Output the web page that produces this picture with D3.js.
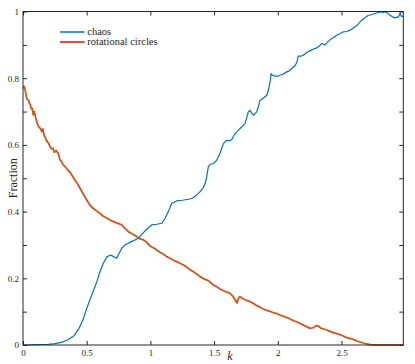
<!DOCTYPE html>
<html lang="en">
<head>
    <meta charset="UTF-8">
    <title>Fraction vs k</title>
    <script src="https://d3js.org/d3.v7.min.js"></script>
    <style>
        body { margin: 0; background: #fff; }
        text { font-family: "Liberation Serif", "Times New Roman", Times, serif; fill: #262626; }
    </style>
</head>
<body>
    <div class="canvas"></div>
    <script>
        // data
        const kChaos = [0, 0.1, 0.2, 0.25, 0.3, 0.35, 0.4, 0.44, 0.47, 0.5, 0.53, 0.56, 0.58, 0.6, 0.63, 0.66, 0.69, 0.71, 0.735, 0.755, 0.775, 0.8, 0.853, 0.905, 0.93, 0.958, 0.98, 1.01, 1.05, 1.09, 1.115, 1.141, 1.167, 1.206, 1.25, 1.3, 1.33, 1.363, 1.39, 1.415, 1.43, 1.44, 1.455, 1.47, 1.494, 1.52, 1.546, 1.56, 1.572, 1.599, 1.62, 1.638, 1.664, 1.68, 1.703, 1.72, 1.743, 1.755, 1.768, 1.782, 1.795, 1.808, 1.82, 1.834, 1.848, 1.86, 1.875, 1.886, 1.913, 1.926, 1.94, 1.947, 1.96, 1.978, 2.0, 2.017, 2.04, 2.07, 2.09, 2.109, 2.13, 2.148, 2.161, 2.18, 2.2, 2.227, 2.25, 2.279, 2.3, 2.318, 2.345, 2.37, 2.4, 2.423, 2.44, 2.462, 2.49, 2.514, 2.54, 2.567, 2.606, 2.63, 2.659, 2.685, 2.71, 2.74, 2.763, 2.79, 2.816, 2.83, 2.84, 2.855, 2.87, 2.88, 2.9, 2.92, 2.946, 2.955, 2.96, 2.97, 2.985]
        const chaos = [0, 0.001, 0.002, 0.004, 0.008, 0.015, 0.028, 0.05, 0.075, 0.11, 0.14, 0.17, 0.19, 0.215, 0.245, 0.265, 0.27, 0.265, 0.26, 0.275, 0.29, 0.3, 0.31, 0.32, 0.33, 0.342, 0.35, 0.36, 0.362, 0.365, 0.38, 0.4, 0.425, 0.432, 0.434, 0.437, 0.44, 0.45, 0.46, 0.472, 0.485, 0.5, 0.535, 0.542, 0.544, 0.554, 0.574, 0.59, 0.604, 0.614, 0.612, 0.616, 0.634, 0.64, 0.649, 0.655, 0.664, 0.68, 0.699, 0.704, 0.695, 0.689, 0.693, 0.699, 0.715, 0.734, 0.737, 0.74, 0.749, 0.764, 0.79, 0.814, 0.808, 0.806, 0.806, 0.809, 0.812, 0.819, 0.822, 0.829, 0.835, 0.846, 0.866, 0.866, 0.869, 0.877, 0.882, 0.887, 0.89, 0.894, 0.904, 0.9, 0.912, 0.919, 0.922, 0.929, 0.934, 0.939, 0.94, 0.944, 0.954, 0.962, 0.974, 0.982, 0.988, 0.991, 0.994, 0.997, 0.999, 0.996, 1.0, 0.996, 0.993, 0.989, 0.984, 0.981, 0.984, 0.99, 0.996, 0.985, 0.986]

        const kCircles = [0, 0.01, 0.016, 0.022, 0.029, 0.04, 0.05, 0.058, 0.065, 0.072, 0.081, 0.088, 0.094, 0.1, 0.11, 0.12, 0.13, 0.14, 0.147, 0.155, 0.165, 0.175, 0.186, 0.2, 0.212, 0.225, 0.235, 0.245, 0.26, 0.277, 0.29, 0.3, 0.315, 0.33, 0.35, 0.369, 0.39, 0.408, 0.425, 0.447, 0.465, 0.487, 0.505, 0.526, 0.55, 0.578, 0.6, 0.63, 0.66, 0.696, 0.73, 0.775, 0.8, 0.827, 0.86, 0.892, 0.92, 0.945, 0.971, 1.0, 1.03, 1.049, 1.075, 1.1, 1.128, 1.154, 1.18, 1.206, 1.232, 1.26, 1.285, 1.311, 1.34, 1.363, 1.389, 1.42, 1.455, 1.494, 1.52, 1.546, 1.58, 1.625, 1.65, 1.665, 1.68, 1.69, 1.703, 1.73, 1.756, 1.78, 1.808, 1.835, 1.86, 1.885, 1.913, 1.94, 1.97, 2.0, 2.017, 2.05, 2.08, 2.096, 2.122, 2.15, 2.174, 2.2, 2.227, 2.253, 2.28, 2.3, 2.318, 2.34, 2.36, 2.384, 2.41, 2.435, 2.462, 2.488, 2.514, 2.54, 2.565, 2.593, 2.62, 2.645, 2.671, 2.7, 2.724, 2.74, 2.985]
        const circles = [0.77, 0.775, 0.765, 0.755, 0.738, 0.735, 0.725, 0.72, 0.708, 0.71, 0.69, 0.7, 0.69, 0.68, 0.668, 0.655, 0.652, 0.646, 0.64, 0.648, 0.63, 0.622, 0.612, 0.605, 0.595, 0.588, 0.59, 0.578, 0.583, 0.575, 0.555, 0.552, 0.54, 0.535, 0.525, 0.518, 0.505, 0.494, 0.485, 0.47, 0.458, 0.444, 0.432, 0.419, 0.41, 0.402, 0.396, 0.386, 0.38, 0.372, 0.367, 0.36, 0.35, 0.34, 0.333, 0.325, 0.318, 0.315, 0.308, 0.296, 0.29, 0.285, 0.278, 0.273, 0.265, 0.26, 0.254, 0.25, 0.245, 0.24, 0.233, 0.226, 0.219, 0.213, 0.205, 0.198, 0.193, 0.18, 0.175, 0.168, 0.162, 0.155, 0.145, 0.135, 0.126, 0.14, 0.145, 0.138, 0.134, 0.13, 0.125, 0.118, 0.113, 0.108, 0.104, 0.101, 0.096, 0.093, 0.09, 0.085, 0.081, 0.078, 0.073, 0.069, 0.065, 0.06, 0.055, 0.05, 0.052, 0.058, 0.057, 0.05, 0.048, 0.045, 0.041, 0.037, 0.034, 0.031, 0.027, 0.022, 0.02, 0.017, 0.012, 0.009, 0.006, 0.003, 0.001, 0, 0]

        const seriesNames = ['chaos', 'rotational circles']
        const xTicks = [0, 0.5, 1, 1.5, 2, 2.5]
        const xTickLabels = ['0', '0.5', '1', '1.5', '2', '2.5']
        const yTicks = [0, 0.1, 0.2, 0.3, 0.4, 0.5, 0.6, 0.7, 0.8, 0.9, 1]
        const yTickLabels = ['0', '', '0.2', '', '0.4', '', '0.6', '', '0.8', '', '1']

        const width = 415
        const height = 364
        let [mt, mb, mr, ml] = [11.5, 19, 11.7, 23]
        const graphWidth = width - ml - mr
        const graphHeight = height - mt - mb
        const axisColor = '#262626'
        const colors = ['#0072BD', '#D95319']

        const svg = d3.select('.canvas')
                    .append('svg')
                    .attr('width', width)
                    .attr('height', height)

        const graph = svg.append('g')
                        .attr('transform', `translate(${ml}, ${mt})`)

        const x = d3.scaleLinear().domain([0, 2.985]).range([0, graphWidth])
        const y = d3.scaleLinear().domain([0, 1]).range([graphHeight, 0])

        // lines
        const line = d3.line()
                        .x(d => x(d[0]))
                        .y(d => y(d[1]))

        graph.append('path')
            .attr('fill', 'none')
            .attr('stroke', colors[1])
            .attr('stroke-width', 1.8)
            .attr('stroke-linejoin', 'round')
            .attr('d', line(kCircles.map((k, i) => [k, circles[i]])))

        graph.append('path')
            .attr('fill', 'none')
            .attr('stroke', colors[0])
            .attr('stroke-width', 1.2)
            .attr('stroke-linejoin', 'round')
            .attr('d', line(kChaos.map((k, i) => [k, chaos[i]])))

        // axes, ticks pointing inward
        const fmtX = d => xTickLabels[xTicks.indexOf(d)]
        const fmtY = d => yTickLabels[yTicks.indexOf(d)]

        graph.append('g')
            .attr('transform', `translate(0, ${graphHeight})`)
            .call(d3.axisBottom(x).tickValues(xTicks).tickFormat(fmtX).tickSize(-4).tickPadding(5))
        graph.append('g')
            .call(d3.axisTop(x).tickValues(xTicks).tickFormat('').tickSize(-4))
        graph.append('g')
            .call(d3.axisLeft(y).tickValues(yTicks).tickFormat(fmtY).tickSize(-4).tickPadding(4))
        graph.append('g')
            .attr('transform', `translate(${graphWidth}, 0)`)
            .call(d3.axisRight(y).tickValues(yTicks).tickFormat('').tickSize(-4))

        graph.selectAll('.domain').remove()
        graph.selectAll('.tick line').attr('stroke', axisColor).attr('stroke-width', 1)
        graph.selectAll('.tick text')
            .attr('font-family', '"Liberation Serif", serif')
            .attr('font-size', 9)
            .attr('fill', axisColor)

        graph.append('rect')
            .attr('width', graphWidth)
            .attr('height', graphHeight)
            .attr('fill', 'none')
            .attr('stroke', axisColor)
            .attr('stroke-width', 1)

        // labels
        svg.append('text')
            .attr('transform', `translate(16.5, ${mt + graphHeight / 2}) rotate(-90)`)
            .attr('text-anchor', 'middle')
            .attr('font-size', 12)
            .text('Fraction')

        svg.append('text')
            .attr('x', 230)
            .attr('y', 359.5)
            .attr('text-anchor', 'middle')
            .attr('font-size', 12)
            .attr('font-style', 'italic')
            .text('k')

        // legend
        const legend = svg.append('g').attr('transform', 'translate(60, 32)')
        seriesNames.forEach((name, i) => {
            legend.append('line')
                .attr('x1', 0).attr('x2', 24.5)
                .attr('y1', i * 10).attr('y2', i * 10)
                .attr('stroke', i === 0 ? colors[0] : '#FF0000')
                .attr('stroke-width', 1.5)
            legend.append('text')
                .attr('x', 27.3)
                .attr('y', i * 10 + 3.3)
                .attr('font-size', 10.5)
                .text(name)
        })
    </script>
</body>
</html>
